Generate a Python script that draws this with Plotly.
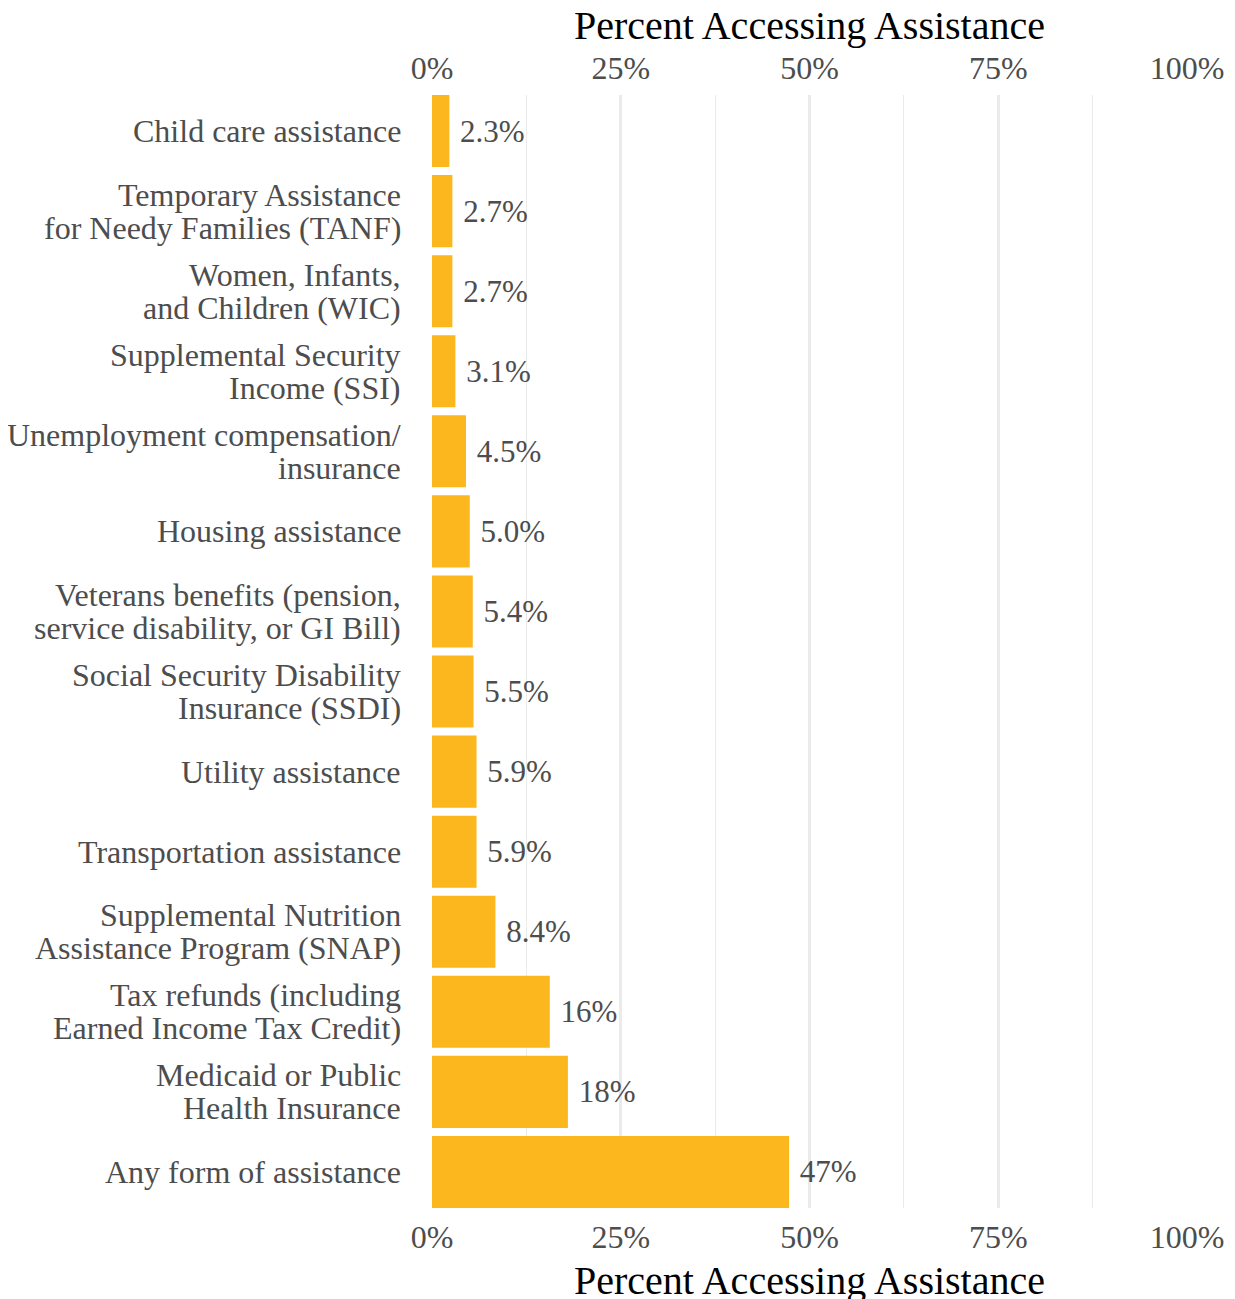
import plotly.graph_objects as go

categories = [
    "Child care assistance",
    "Temporary Assistance<br>for Needy Families (TANF)",
    "Women, Infants,<br>and Children (WIC)",
    "Supplemental Security<br>Income (SSI)",
    "Unemployment compensation/<br>insurance",
    "Housing assistance",
    "Veterans benefits (pension,<br>service disability, or GI Bill)",
    "Social Security Disability<br>Insurance (SSDI)",
    "Utility assistance",
    "Transportation assistance",
    "Supplemental Nutrition<br>Assistance Program (SNAP)",
    "Tax refunds (including<br>Earned Income Tax Credit)",
    "Medicaid or Public<br>Health Insurance",
    "Any form of assistance",
]
values = [2.3, 2.7, 2.7, 3.1, 4.5, 5.0, 5.4, 5.5, 5.9, 5.9, 8.4, 15.6, 18.0, 47.3]
value_labels = ["2.3%", "2.7%", "2.7%", "3.1%", "4.5%", "5.0%", "5.4%", "5.5%",
                "5.9%", "5.9%", "8.4%", "16%", "18%", "47%"]
tick_vals = [0, 25, 50, 75, 100]
tick_text = ["0%", "25%", "50%", "75%", "100%"]
axis_title = "Percent Accessing Assistance"

FONT = "Liberation Serif, Times New Roman, serif"
GRAY = "#4D4D4D"
GRID = "#EBEBEB"
BAR = "#FDB71E"
SIZE = 32
LINE_GAP = 33

fig = go.Figure()
fig.add_trace(go.Bar(
    y=categories, x=values, orientation="h",
    marker=dict(color=BAR, line=dict(width=0)),
    width=0.9,
    text=["\u00a0" + t for t in value_labels],
    textposition="outside",
    textfont=dict(family=FONT, size=SIZE - 1, color=GRAY),
    cliponaxis=False,
    showlegend=False,
    hoverinfo="skip",
))
# invisible trace so the top axis is drawn
fig.add_trace(go.Scatter(
    y=categories, x=values, xaxis="x2", mode="markers",
    marker=dict(opacity=0), showlegend=False, hoverinfo="skip",
))

# category labels, each line placed separately for tighter line spacing
for cat in categories:
    lines = cat.split("<br>")
    n = len(lines)
    for i, line in enumerate(lines):
        offset = (i - (n - 1) / 2) * LINE_GAP
        fig.add_annotation(
            x=0, xref="paper", xanchor="right", xshift=-29,
            y=cat, yref="y", yanchor="middle", yshift=-offset,
            text=line, showarrow=False,
            font=dict(family=FONT, size=SIZE, color=GRAY),
        )

# axis titles (top and bottom)
title_font = dict(family=FONT, size=40, color="black")
fig.add_annotation(x=0.5, xref="paper", y=1, yref="paper", yanchor="middle",
                   yshift=70, text=axis_title, showarrow=False, font=title_font)
fig.add_annotation(x=0.5, xref="paper", y=0, yref="paper", yanchor="middle",
                   yshift=-72, text=axis_title, showarrow=False, font=title_font)

axis_common = dict(
    range=[0, 100], tickvals=tick_vals, ticktext=tick_text,
    tickfont=dict(family=FONT, size=SIZE, color=GRAY),
    ticks="outside", tickcolor="rgba(0,0,0,0)",
    zeroline=False, showline=False, automargin=False,
)

fig.update_layout(
    width=1235, height=1299,
    margin=dict(l=424, r=56, t=87, b=99, autoexpand=False),
    plot_bgcolor="white", paper_bgcolor="white",
    bargap=0.1,
    xaxis=dict(
        **axis_common,
        side="bottom", ticklen=1,
        showgrid=True, gridcolor=GRID, gridwidth=2.5,
        minor=dict(dtick=12.5, tick0=0, showgrid=True, gridcolor=GRID, gridwidth=1.3, ticks=""),
    ),
    xaxis2=dict(
        **axis_common,
        side="top", overlaying="x", matches="x", ticklen=2,
        showgrid=False,
    ),
    yaxis=dict(
        categoryorder="array", categoryarray=categories,
        autorange=False, range=[13.45, -0.45],
        showticklabels=False, ticks="",
        showgrid=False, zeroline=False, showline=False, automargin=False,
    ),
)

fig.write_html("out.html")
